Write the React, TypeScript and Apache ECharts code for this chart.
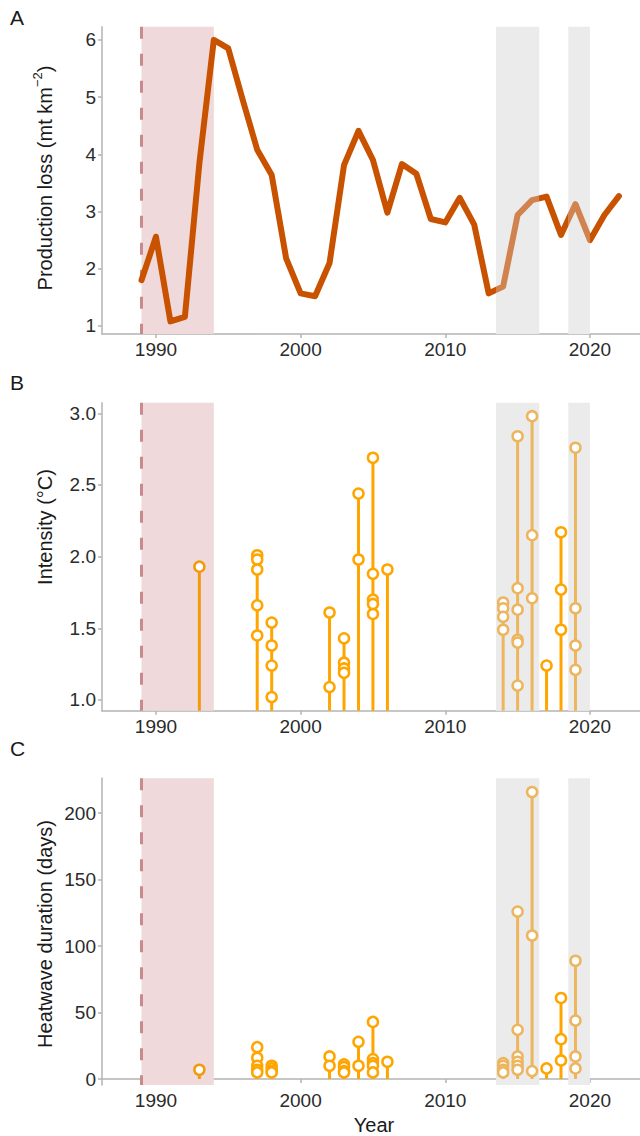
import React, { useEffect, useRef } from "react";
import * as echarts from "echarts";

// ---------- data ----------
const lossYears = [1989, 1990, 1991, 1992, 1993, 1994, 1995, 1996, 1997, 1998, 1999, 2000, 2001, 2002, 2003, 2004, 2005, 2006, 2007, 2008, 2009, 2010, 2011, 2012, 2013, 2014, 2015, 2016, 2017, 2018, 2019, 2020, 2021, 2022];
const lossValues = [1.80, 2.56, 1.08, 1.16, 3.84, 6.00, 5.85, 4.95, 4.08, 3.64, 2.18, 1.57, 1.52, 2.10, 3.81, 4.41, 3.90, 2.98, 3.83, 3.66, 2.87, 2.81, 3.24, 2.77, 1.57, 1.69, 2.94, 3.20, 3.26, 2.59, 3.13, 2.50, 2.94, 3.27];

const heatwaveYears = [1993, 1997, 1998, 2002, 2003, 2004, 2005, 2006, 2014, 2015, 2016, 2017, 2018, 2019];
const intensity = [
  [1.93],
  [2.01, 1.98, 1.91, 1.66, 1.45],
  [1.54, 1.38, 1.24, 1.02],
  [1.61, 1.09],
  [1.43, 1.26, 1.22, 1.19],
  [2.44, 1.98],
  [2.69, 1.88, 1.70, 1.67, 1.60],
  [1.91],
  [1.68, 1.64, 1.58, 1.49],
  [2.84, 1.78, 1.63, 1.42, 1.40, 1.10],
  [2.98, 2.15, 1.71],
  [1.24],
  [2.17, 1.77, 1.49],
  [2.76, 1.64, 1.38, 1.21],
];
const duration = [
  [7],
  [24, 16, 10, 7, 5],
  [10, 8, 6, 5],
  [17, 10],
  [11, 9, 6, 5],
  [28, 10],
  [43, 15, 12, 10, 5],
  [13],
  [12, 10, 7, 5],
  [126, 37, 17, 13, 10, 7],
  [216, 108, 6],
  [8],
  [61, 30, 14],
  [89, 44, 17, 8],
];

const pinkPeriod = [1989, 1994];
const greyPeriods = [[2013.5, 2016.5], [2018.5, 2020]];
const dashedYear = 1989;

const xTicks = [1990, 2000, 2010, 2020];
const lossTicks = [1, 2, 3, 4, 5, 6];
const intensityTicks = [1.0, 1.5, 2.0, 2.5, 3.0];
const durationTicks = [0, 50, 100, 150, 200];

// ---------- styles ----------
const FONT = "Liberation Sans, Arial, Helvetica, sans-serif";
const AXIS_GREY = "#b3b3b3";
const LABEL_COLOR = "#2b2b2b";
const PINK = "#efd9da";
const GREY = "#ebebeb";
const DASH = "#c98a8e";
const LINE_DARK = "#c85200";
const LINE_LIGHT = "#d0834f";
const ORANGE = "#ffa500";
const ORANGE_LIGHT = "#ecb55e";
const ORANGE_PINK = "#f29a0e";

const X_MIN = 1986.27;
const X_MAX = 2023.46;

const grids = [
  { top: 26.7, height: 307.3, yMin: 0.86, yMax: 6.23 },
  { top: 402.7, height: 308, yMin: 0.925, yMax: 3.074 },
  { top: 778.3, height: 306.7, yMin: -4.5, yMax: 226.3 },
];

function inGrey(y: number) {
  return greyPeriods.some((p) => y >= p[0] && y <= p[1]);
}
function eventColor(y: number) {
  if (inGrey(y)) return ORANGE_LIGHT;
  if (y >= pinkPeriod[0] && y <= pinkPeriod[1]) return ORANGE_PINK;
  return ORANGE;
}

export default function App() {
  const ref = useRef<HTMLDivElement>(null);

  useEffect(() => {
    if (!ref.current) return;
    const chart = echarts.init(ref.current, null, { renderer: "svg" });

    const tickSets = [lossTicks, intensityTicks, durationTicks];

    const xAxis = grids.map((g, i) => ({
      type: "value",
      gridIndex: i,
      min: X_MIN,
      max: X_MAX,
      splitLine: { show: false },
      axisLine: { show: true, lineStyle: { color: AXIS_GREY, width: 1.5 } },
      axisTick: { show: true, length: 4, customValues: xTicks, lineStyle: { color: AXIS_GREY, width: 1.5 } },
      axisLabel: {
        customValues: xTicks,
        fontSize: 19,
        color: LABEL_COLOR,
        fontFamily: FONT,
        margin: 6,
        formatter: (v: number) => String(Math.round(v)),
      },
    }));

    const yAxis = grids.map((g, i) => ({
      type: "value",
      gridIndex: i,
      min: g.yMin,
      max: g.yMax,
      splitLine: { show: false },
      axisLine: { show: true, lineStyle: { color: AXIS_GREY, width: 1.5 } },
      axisTick: { show: true, length: 4, customValues: tickSets[i], lineStyle: { color: AXIS_GREY, width: 1.5 } },
      axisLabel: {
        customValues: tickSets[i],
        fontSize: 19,
        color: LABEL_COLOR,
        fontFamily: FONT,
        margin: 6,
        formatter: (v: number) => (i === 1 ? v.toFixed(1) : String(Math.round(v))),
      },
    }));

    const series: any[] = [];

    grids.forEach((g, i) => {
      const shadeData = [[pinkPeriod[0], pinkPeriod[1], 0], ...greyPeriods.map((p) => [p[0], p[1], 1])];
      series.push({
        type: "custom",
        xAxisIndex: i,
        yAxisIndex: i,
        silent: true,
        z: 1,
        data: shadeData,
        encode: { x: [0, 1] },
        renderItem: (params: any, api: any) => {
          const cs = params.coordSys;
          const x0 = api.coord([api.value(0), g.yMin])[0];
          const x1 = api.coord([api.value(1), g.yMin])[0];
          return {
            type: "rect",
            shape: { x: x0, y: cs.y, width: x1 - x0, height: cs.height },
            style: { fill: api.value(2) === 0 ? PINK : GREY },
          };
        },
      });
      series.push({
        type: "custom",
        xAxisIndex: i,
        yAxisIndex: i,
        silent: true,
        z: 2,
        data: [[dashedYear]],
        encode: { x: 0 },
        renderItem: (params: any, api: any) => {
          const cs = params.coordSys;
          const x = api.coord([api.value(0), g.yMin])[0];
          return {
            type: "line",
            shape: { x1: x, y1: cs.y, x2: x, y2: cs.y + cs.height },
            style: { stroke: DASH, lineWidth: 3, lineDash: [12, 15] },
          };
        },
      });
    });

    const lineIndex = series.length;
    series.push({
      type: "line",
      xAxisIndex: 0,
      yAxisIndex: 0,
      z: 3,
      showSymbol: false,
      symbol: "none",
      data: lossYears.map((y, k) => [y, lossValues[k]]),
      lineStyle: { width: 6, cap: "round", join: "round" },
    });

    const lolli = [
      { grid: 1, values: intensity, base: grids[1].yMin },
      { grid: 2, values: duration, base: 0 },
    ];
    lolli.forEach((L) => {
      series.push({
        type: "custom",
        xAxisIndex: L.grid,
        yAxisIndex: L.grid,
        z: 3,
        data: heatwaveYears.map((y, k) => [y, Math.max(...L.values[k])]),
        encode: { x: 0, y: 1 },
        renderItem: (params: any, api: any) => {
          const yr = api.value(0);
          const top = api.coord([yr, api.value(1)]);
          const bot = api.coord([yr, L.base]);
          return {
            type: "line",
            shape: { x1: top[0], y1: top[1], x2: bot[0], y2: bot[1] },
            style: { stroke: eventColor(yr), lineWidth: 3 },
          };
        },
      });
      const pts: any[] = [];
      heatwaveYears.forEach((y, k) => {
        L.values[k].forEach((v) => {
          pts.push({ value: [y, v], itemStyle: { borderColor: eventColor(y) } });
        });
      });
      series.push({
        type: "scatter",
        xAxisIndex: L.grid,
        yAxisIndex: L.grid,
        z: 4,
        symbol: "circle",
        symbolSize: 10,
        itemStyle: { color: "#ffffff", borderWidth: 2.5, opacity: 1 },
        data: pts,
      });
    });

    const pieces: any[] = [];
    let start = -Infinity;
    greyPeriods.forEach((p) => {
      pieces.push({ gte: start, lt: p[0], color: LINE_DARK });
      pieces.push({ gte: p[0], lt: p[1], color: LINE_LIGHT });
      start = p[1];
    });
    pieces.push({ gte: start, color: LINE_DARK });

    const titleStyle = { fontSize: 20, fill: "#1a1a1a", fontFamily: FONT };

    chart.setOption({
      animation: false,
      backgroundColor: "#ffffff",
      grid: grids.map((g) => ({ left: 102, right: 0, top: g.top, height: g.height, containLabel: false })),
      xAxis,
      yAxis,
      visualMap: [
        {
          type: "piecewise",
          show: false,
          seriesIndex: lineIndex,
          dimension: 0,
          pieces,
        },
      ],
      series,
      graphic: [
        { type: "text", left: 10, top: 7, style: { text: "A", fontSize: 21, fill: "#1a1a1a", fontFamily: FONT } },
        { type: "text", left: 10, top: 372, style: { text: "B", fontSize: 21, fill: "#1a1a1a", fontFamily: FONT } },
        { type: "text", left: 10, top: 738, style: { text: "C", fontSize: 21, fill: "#1a1a1a", fontFamily: FONT } },
        {
          type: "text",
          x: 45,
          y: 178,
          rotation: Math.PI / 2,
          style: {
            text: "Production loss (mt km{sup|−2})",
            ...titleStyle,
            align: "center",
            verticalAlign: "middle",
            rich: {
              sup: { fontSize: 13, fontFamily: FONT, fill: "#1a1a1a", verticalAlign: "top", lineHeight: 28 },
            },
            lineHeight: 28,
          },
        },
        {
          type: "text",
          x: 45,
          y: 527,
          rotation: Math.PI / 2,
          style: { text: "Intensity (°C)", ...titleStyle, align: "center", verticalAlign: "middle" },
        },
        {
          type: "text",
          x: 45,
          y: 934,
          rotation: Math.PI / 2,
          style: { text: "Heatwave duration (days)", ...titleStyle, align: "center", verticalAlign: "middle" },
        },
        {
          type: "text",
          x: 374,
          y: 1125,
          style: { text: "Year", ...titleStyle, align: "center", verticalAlign: "middle" },
        },
      ],
    });

    return () => chart.dispose();
  }, []);

  return (
    <div
      ref={ref}
      style={{ position: "absolute", left: 0, top: 0, width: 640, height: 1136, background: "#fff" }}
    />
  );
}
